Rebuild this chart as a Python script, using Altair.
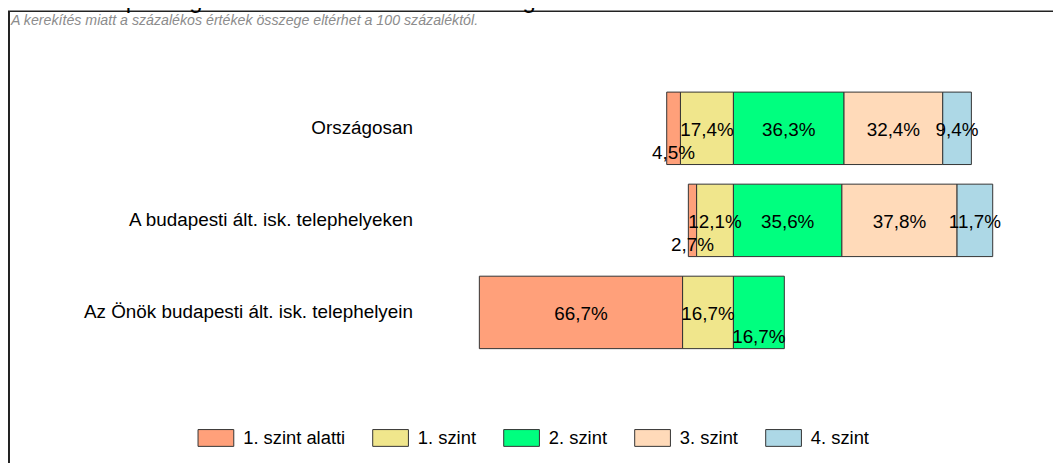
import altair as alt
import pandas as pd

# ---- data -------------------------------------------------------------
rows = [
    "Országosan",
    "A budapesti ált. isk. telephelyeken",
    "Az Önök budapesti ált. isk. telephelyein",
]
levels = ["1. szint alatti", "1. szint", "2. szint", "3. szint", "4. szint"]
colors = ["#FFA07A", "#F0E68C", "#00FF7F", "#FFDAB9", "#ADD8E6"]
orszagosan = [4.5, 17.4, 36.3, 32.4, 9.4]
budapesti = [2.7, 12.1, 35.6, 37.8, 11.7]
onok = [66.7, 16.7, 16.7, 0.0, 0.0]
left_levels = ["1. szint alatti", "1. szint"]   # drawn to the left of the split
low_labels = [  # labels printed near the bottom edge of their segment
    (rows[0], "1. szint alatti"),
    (rows[1], "1. szint alatti"),
    (rows[2], "2. szint"),
]
title_text = "A tanulók képességszintek szerinti százalékos megoszlása"
note_text = "A kerekítés miatt a  százalékos értékek összege eltérhet a 100 százaléktól."

# ---- table ------------------------------------------------------------
series = [orszagosan, budapesti, onok]
recs = []
for ri, (rname, vals) in enumerate(zip(rows, series)):
    d = dict(zip(levels, vals))
    pos = 0.0
    for lv in reversed(left_levels):
        v = d[lv]
        if v > 0:
            recs.append(dict(row=ri, rowname=rname, level=lv, x0=pos - v, x1=pos, v=v))
        pos -= v
    pos = 0.0
    for lv in [l for l in levels if l not in left_levels]:
        v = d[lv]
        if v > 0:
            recs.append(dict(row=ri, rowname=rname, level=lv, x0=pos, x1=pos + v, v=v))
        pos += v
df = pd.DataFrame(recs)
df["mid"] = (df.x0 + df.x1) / 2
df["label"] = df.v.map(lambda v: f"{v:.1f}".replace(".", ",") + "%")
df["low"] = [(r, l) in low_labels for r, l in zip(df.rowname, df.level)]
half = 0.3935
df["y0"] = df.row - half
df["y1"] = df.row + half

rows_df = pd.DataFrame({"row": list(range(len(rows))), "name": rows})
one = pd.DataFrame({"note": [note_text], "title": [title_text]})

W, H = 1053, 455
xscale = alt.Scale(domain=[-238.11, 104.89], nice=False, zero=False)
yscale = alt.Scale(domain=[3.6173, -1.2884], nice=False, zero=False)
FONT = "Liberation Sans"

bars = alt.Chart(df).mark_bar(stroke="#333333", strokeWidth=1).encode(
    x=alt.X("x0:Q", scale=xscale, axis=None),
    x2="x1:Q",
    y=alt.Y("y0:Q", scale=yscale, axis=None),
    y2="y1:Q",
    color=alt.Color(
        "level:N",
        scale=alt.Scale(domain=levels, range=colors),
        legend=alt.Legend(
            title=None,
            orient="none",
            legendX=191,
            legendY=413,
            direction="horizontal",
            symbolType="M-1,-0.47H1V0.47H-1Z",
            symbolSize=1296,
            symbolStrokeColor="#333333",
            symbolStrokeWidth=1,
            labelFont=FONT,
            labelFontSize=18.5,
            labelColor="#000000",
            labelOffset=9,
            columnPadding=25,
            padding=0,
        ),
    ),
)

lab_mid = alt.Chart(df).transform_filter("!datum.low").mark_text(
    font=FONT, fontSize=19, baseline="middle", dy=1.5, color="#000000"
).encode(
    x=alt.X("mid:Q", scale=xscale, axis=None),
    y=alt.Y("row:Q", scale=yscale, axis=None),
    text="label:N",
)
lab_low = alt.Chart(df).transform_filter("datum.low").mark_text(
    font=FONT, fontSize=19, baseline="middle", dy=25, color="#000000"
).encode(
    x=alt.X("mid:Q", scale=xscale, axis=None),
    y=alt.Y("row:Q", scale=yscale, axis=None),
    text="label:N",
)

row_labels = alt.Chart(rows_df).mark_text(
    font=FONT, fontSize=19, align="right", baseline="middle", color="#000000"
).encode(
    x=alt.value(408),
    y=alt.Y("row:Q", scale=yscale, axis=None),
    text="name:N",
)

note = alt.Chart(one).mark_text(
    font=FONT, fontSize=14.3, fontStyle="italic", align="left",
    baseline="alphabetic", color="#8c8c8c"
).encode(x=alt.value(3), y=alt.value(15), text="note:N")

title = alt.Chart(one).mark_text(
    font=FONT, fontSize=24, align="left", baseline="alphabetic", color="#000000"
).encode(x=alt.value(-12), y=alt.value(-2), text="title:N")

frame_left = alt.Chart(one).mark_rule(color="#222222", strokeWidth=2).encode(
    x=alt.value(1), y=alt.value(1.5), y2=alt.value(H + 10)
)
frame_top = alt.Chart(one).mark_rule(color="#222222", strokeWidth=1.5).encode(
    x=alt.value(0), x2=alt.value(W + 10), y=alt.value(1.5)
)

chart = alt.layer(
    frame_left, frame_top, note, title, bars, lab_mid, lab_low, row_labels
).properties(
    width=W, height=H, padding=0, autosize=alt.AutoSizeParams(type="none")
).configure_view(stroke=None)

chart.save("out.html", embed_options={"renderer": "svg", "actions": False})
